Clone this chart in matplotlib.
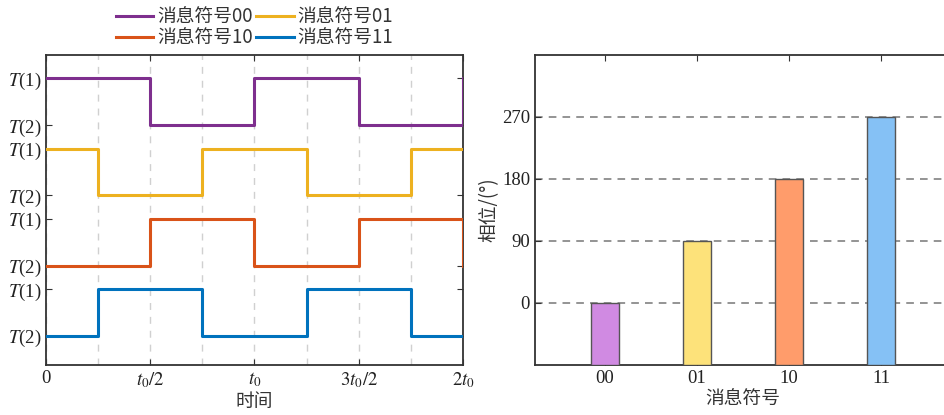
import matplotlib
matplotlib.use('agg')
import matplotlib.pyplot as plt
from matplotlib.lines import Line2D

plt.rcParams['font.family'] = ['Liberation Serif', 'Noto Sans CJK SC', 'DejaVu Sans']
plt.rcParams['mathtext.fontset'] = 'stix'

# time axis in units of t0 (steps of t0/4)
t = [0, 0.25, 0.5, 0.75, 1.0, 1.25, 1.5, 1.75, 2.0]
# 1 = T(1) (high), 0 = T(2) (low)
sig_00 = [1, 1, 0, 0, 1, 1, 0, 0, 1]
sig_01 = [1, 0, 0, 1, 1, 0, 0, 1, 1]
sig_10 = [0, 0, 1, 1, 0, 0, 1, 1, 0]
sig_11 = [0, 1, 1, 0, 0, 1, 1, 0, 0]
signals = [sig_00, sig_01, sig_10, sig_11]
names = ['消息符号00', '消息符号01', '消息符号10', '消息符号11']
line_colors = ['#7E2F8E', '#EDB120', '#D95319', '#0072BD']

symbols = ['00', '01', '10', '11']
phases = [0, 90, 180, 270]
bar_colors = ['#D08AE2', '#FDE27A', '#FF9C6B', '#85C1F5']

xtick_pos = [0, 0.5, 1.0, 1.5, 2.0]
xtick_lab = ['0', '$t_0/2$', '$t_0$', '$3t_0/2$', '$2t_0$']

spine_c = '#333333'
text_c = '#333333'

fig = plt.figure(figsize=(9.44, 4.15), dpi=100)

# ---- left: waveforms
ax1 = fig.add_axes([0.0487, 0.1205, 0.4417, 0.747])
yt, ylab = [], []
for k, (s, c) in enumerate(zip(signals, line_colors)):
    base = 3 * (3 - k)
    y = [base + 2 * v for v in s]
    ax1.plot(t, y, drawstyle='steps-post', color=c, lw=2.2, zorder=3)
    yt += [base, base + 2]
    ylab += ['$T$(2)', '$T$(1)']
ax1.set_xlim(0, 2.0)
ax1.set_ylim(-1.25, 12)
ax1.set_yticks(yt)
ax1.set_yticklabels(ylab)
ax1.set_xticks(xtick_pos)
ax1.set_xticklabels(xtick_lab)
ax1.set_xticks(t[1:-1], minor=True)
ax1.grid(True, axis='x', which='both', ls=(0, (5, 5)), color='#d0d0d0', lw=1)
ax1.tick_params(which='minor', length=0)
ax1.tick_params(which='major', direction='in', top=True, right=True,
                labelsize=13.5, colors=spine_c, labelcolor='#222222', length=4)
ax1.set_xlabel('时间', fontsize=13.5, color=text_c, labelpad=1,
               family=['Noto Sans CJK SC'])
for sp in ax1.spines.values():
    sp.set_color(spine_c)
    sp.set_linewidth(1.3)

# legend filled row by row: 00 01 / 10 11
order = [0, 2, 1, 3]
handles = [Line2D([], [], color=line_colors[i], lw=2.2) for i in order]
labels = [names[i] for i in order]
leg = ax1.legend(handles, labels, ncol=2, loc='lower center',
                 bbox_to_anchor=(0.5, 0.985), frameon=False,
                 handlelength=2.0, handletextpad=0.2, columnspacing=0.2,
                 labelspacing=0.0, borderaxespad=0.2,
                 prop={'family': ['Noto Sans CJK SC'], 'size': 13.5})
for txt in leg.get_texts():
    txt.set_color(text_c)

# ---- right: phase bars
ax2 = fig.add_axes([0.5667, 0.1205, 0.4407, 0.747])
xpos = list(range(len(symbols)))
ax2.bar(xpos, [p + 90 for p in phases], bottom=-90, width=0.3,
        color=bar_colors, edgecolor='#555555', lw=1, zorder=3)
ax2.set_xlim(-0.76, 3.76)
ax2.set_ylim(-90, 360)
ax2.set_yticks(phases)
ax2.set_xticks(xpos)
ax2.set_xticklabels(symbols)
ax2.grid(True, axis='y', ls=(0, (5, 4)), color='#777777', lw=1.1, zorder=0)
ax2.set_axisbelow(True)
ax2.tick_params(direction='in', top=True, right=True, labelsize=13.5,
                colors=spine_c, labelcolor='#222222', length=4)
ax2.set_xlabel('消息符号', fontsize=13.5, color=text_c, labelpad=1,
               family=['Noto Sans CJK SC', 'DejaVu Sans'])
ax2.set_ylabel('相位/(°)', fontsize=13.5, color=text_c, labelpad=2,
               family=['Noto Sans CJK SC', 'DejaVu Sans'])
for sp in ax2.spines.values():
    sp.set_color(spine_c)
    sp.set_linewidth(1.3)

fig.savefig('out.png', dpi=100)
plt.close(fig)
